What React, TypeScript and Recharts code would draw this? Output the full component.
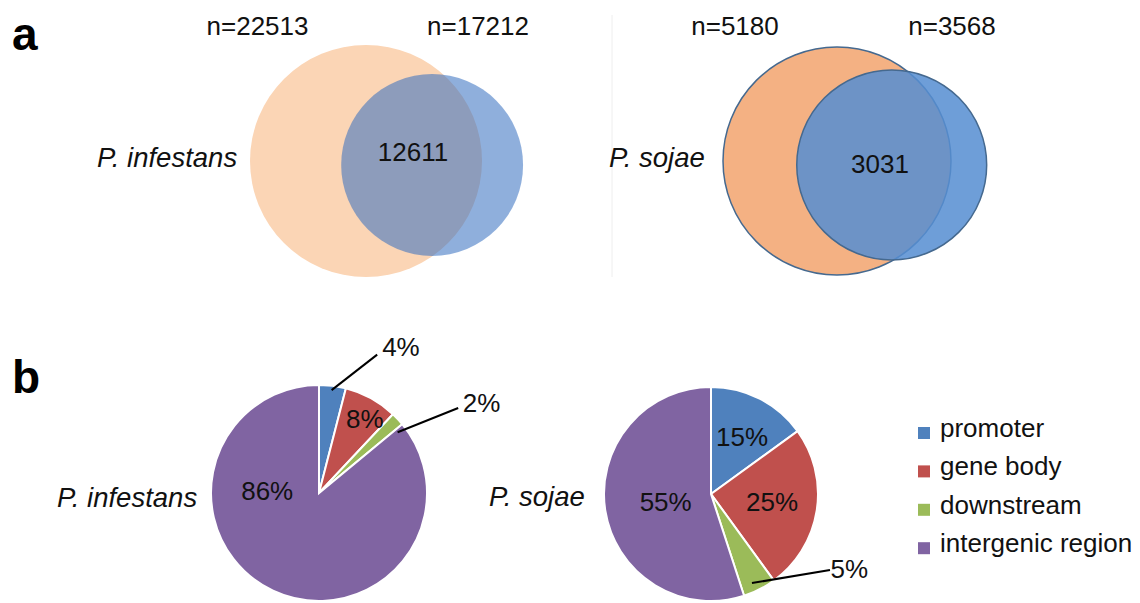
import React from 'react';
import { ScatterChart, Scatter, XAxis, YAxis, ZAxis, PieChart, Pie, Cell, Legend } from 'recharts';

const FONT = '"Liberation Sans", Arial, Helvetica, sans-serif';

// ---------- Panel a: Venn data ----------
const VENN_SPECIES = ['P. infestans', 'P. sojae'];
const INF_SET_SIZES = [22513, 17212];
const INF_OVERLAP = 12611;
const SOJ_SET_SIZES = [5180, 3568];
const SOJ_OVERLAP = 3031;
// circle geometry in units of the larger circle's radius
const INF_CIRCLE_X = [0, 0.57];
const INF_CIRCLE_Y = [0, -0.034];
const INF_CIRCLE_R = [1, 0.784];
const INF_OVERLAP_POS = [0.405, 0.078];
const SOJ_CIRCLE_X = [0, 0.48];
const SOJ_CIRCLE_Y = [0, -0.035];
const SOJ_CIRCLE_R = [1, 0.833];
const SOJ_OVERLAP_POS = [0.377, -0.026];

// ---------- Panel b: pie data ----------
const SEGMENTS = ['promoter', 'gene body', 'downstream', 'intergenic region'];
const PIE_INF = [4, 8, 2, 86];
const PIE_SOJ = [15, 25, 5, 55];

// ---------- styles / layout ----------
const SEG_COLORS = ['#4F81BD', '#C0504D', '#9BBB59', '#8064A2'];

const INF_STYLE = [
  { fill: '#FBD5B5', opacity: 1, stroke: 'none', strokeWidth: 0 },
  { fill: 'rgb(51,110,191)', opacity: 0.55, stroke: 'none', strokeWidth: 0 },
];
const SOJ_STYLE = [
  { fill: '#F4B183', opacity: 1, stroke: '#45698f', strokeWidth: 1.5 },
  { fill: 'rgb(86,142,210)', opacity: 0.86, stroke: '#45698f', strokeWidth: 1.5 },
];

const INF_BOX = { left: 226, top: 20, width: 350, height: 280, scale: 116, ox: 140, oy: 141 };
const SOJ_BOX = { left: 700, top: 20, width: 320, height: 280, scale: 114, ox: 137, oy: 141 };

// label placement: [radius fraction, angle deg]
const PIE_LABELS_INF = [
  { t: [1.55, 60.7], line: [[0.96, 83], [1.39, 67.2]] },
  { t: [0.81, 58.5] },
  { t: [1.72, 28.9], line: [[0.92, 37.7], [1.51, 31.4]] },
  { t: [0.48, 177.8] },
];
const PIE_LABELS_SOJ = [
  { t: [0.61, 61.5] },
  { t: [0.575, -7.5] },
  { t: [1.47, -28.5], line: [[0.916, -65.3], [1.32, -32.6]] },
  { t: [0.43, 190] },
];

type Box = { left: number; top: number; width: number; height: number; scale: number; ox: number; oy: number };

function Venn({ xs, ys, rs, overlap, overlapPos, box, styles }: {
  xs: number[]; ys: number[]; rs: number[]; overlap: number; overlapPos: number[]; box: Box; styles: any[];
}) {
  const { left, top, width, height, scale, ox, oy } = box;
  const xDom = [-ox / scale, (width - ox) / scale];
  const yDom = [-(height - oy) / scale, oy / scale];
  const zs = rs.map((r) => r * r);
  const zMax = Math.max(...zs);
  const circles = xs.map((x, i) => ({ x, y: ys[i], z: zs[i] }));
  const labelData = [{ x: overlapPos[0], y: overlapPos[1], z: 0, label: overlap }];
  return (
    <div style={{ position: 'absolute', left, top }}>
      <ScatterChart width={width} height={height} margin={{ top: 0, right: 0, bottom: 0, left: 0 }}>
        <XAxis type="number" dataKey="x" domain={xDom} hide allowDataOverflow />
        <YAxis type="number" dataKey="y" domain={yDom} hide allowDataOverflow />
        <ZAxis type="number" dataKey="z" domain={[0, zMax]} range={[0, Math.PI * scale * scale * zMax]} />
        {circles.map((c, i) => (
          <Scatter
            key={i}
            data={[c]}
            isAnimationActive={false}
            shape={(p: any) => (
              <circle
                cx={p.cx}
                cy={p.cy}
                r={Math.sqrt(Math.max(p.size, 0) / Math.PI)}
                fill={styles[i].fill}
                fillOpacity={styles[i].opacity}
                stroke={styles[i].stroke}
                strokeWidth={styles[i].strokeWidth}
              />
            )}
          />
        ))}
        <Scatter
          data={labelData}
          isAnimationActive={false}
          shape={(p: any) => (
            <text x={p.cx} y={p.cy} dy="0.35em" textAnchor="middle" fontFamily={FONT} fontSize={26} fill="#111">
              {p.payload.label}
            </text>
          )}
        />
      </ScatterChart>
    </div>
  );
}

const makePieLabel = (layout: any[]) => (props: any) => {
  const { cx, cy, outerRadius, index, value } = props;
  const spec = layout[index];
  const pt = (f: number, a: number) => [
    cx + f * outerRadius * Math.cos((a * Math.PI) / 180),
    cy - f * outerRadius * Math.sin((a * Math.PI) / 180),
  ];
  const [tx, ty] = pt(spec.t[0], spec.t[1]);
  let line = null;
  if (spec.line) {
    const [x1, y1] = pt(spec.line[0][0], spec.line[0][1]);
    const [x2, y2] = pt(spec.line[1][0], spec.line[1][1]);
    line = <line x1={x1} y1={y1} x2={x2} y2={y2} stroke="#000" strokeWidth={2} />;
  }
  return (
    <g key={`lbl-${index}`}>
      {line}
      <text x={tx} y={ty} dy="0.35em" textAnchor="middle" fontFamily={FONT} fontSize={26} fill="#111">
        {value}%
      </text>
    </g>
  );
};

const LegendContent = (props: any) => {
  const payload = props.payload || [];
  return (
    <svg width={230} height={170} style={{ display: 'block' }}>
      {SEGMENTS.map((name, i) => {
        const entry = payload.find((p: any) => p.value === name);
        const color = (entry && entry.color) || SEG_COLORS[i];
        const base = 32 + i * 38.4;
        return (
          <g key={name}>
            <rect x={8} y={base - 10} width={12} height={12} fill={color} />
            <text x={30} y={base} fontFamily={FONT} fontSize={26} fill="#111">
              {name}
            </text>
          </g>
        );
      })}
    </svg>
  );
};

function PiePanel({ values, labels, left, top, width, height, cx, cy, r, legend }: any) {
  const data = values.map((v: number, i: number) => ({ name: SEGMENTS[i], value: v, fill: SEG_COLORS[i] }));
  return (
    <div style={{ position: 'absolute', left, top }}>
      <PieChart width={width} height={height} margin={{ top: 0, right: 0, bottom: 0, left: 0 }}>
        <Pie
          data={data}
          dataKey="value"
          nameKey="name"
          cx={cx}
          cy={cy}
          outerRadius={r}
          startAngle={90}
          endAngle={-270}
          stroke="#fff"
          strokeWidth={2}
          isAnimationActive={false}
          labelLine={false}
          label={makePieLabel(labels)}
        >
          {data.map((d: any, i: number) => (
            <Cell key={i} fill={SEG_COLORS[i]} />
          ))}
        </Pie>
        {legend && (
          <Legend
            layout="vertical"
            align="right"
            verticalAlign="middle"
            content={<LegendContent />}
            wrapperStyle={{ left: 350, top: 75, width: 230, height: 170, right: 'auto', bottom: 'auto' }}
          />
        )}
      </PieChart>
    </div>
  );
}

export default function App() {
  const txt = { fontFamily: FONT, fontSize: 26, fill: '#111' } as const;
  const sp = { fontFamily: FONT, fontSize: 27.5, fill: '#111', fontStyle: 'italic' } as const;
  return (
    <div style={{ position: 'absolute', left: 0, top: 0, width: 1140, height: 603, background: '#fff', overflow: 'hidden' }}>
      <Venn
        xs={INF_CIRCLE_X}
        ys={INF_CIRCLE_Y}
        rs={INF_CIRCLE_R}
        overlap={INF_OVERLAP}
        overlapPos={INF_OVERLAP_POS}
        box={INF_BOX}
        styles={INF_STYLE}
      />
      <Venn
        xs={SOJ_CIRCLE_X}
        ys={SOJ_CIRCLE_Y}
        rs={SOJ_CIRCLE_R}
        overlap={SOJ_OVERLAP}
        overlapPos={SOJ_OVERLAP_POS}
        box={SOJ_BOX}
        styles={SOJ_STYLE}
      />
      <PiePanel values={PIE_INF} labels={PIE_LABELS_INF} left={180} top={310} width={360} height={293} cx={139} cy={183} r={108} />
      <PiePanel values={PIE_SOJ} labels={PIE_LABELS_SOJ} left={560} top={330} width={580} height={273} cx={151} cy={164} r={107} legend />
      <svg width={1140} height={603} style={{ position: 'absolute', left: 0, top: 0, pointerEvents: 'none' }}>
        <line x1={612} y1={15} x2={612} y2={277} stroke="#eeeeee" strokeWidth={1} />
        <text x={12} y={50} fontFamily={FONT} fontSize={46} fontWeight="bold" fill="#000">a</text>
        <text x={12} y={393} fontFamily={FONT} fontSize={46} fontWeight="bold" fill="#000">b</text>
        <text x={257.5} y={35} textAnchor="middle" {...txt}>n={INF_SET_SIZES[0]}</text>
        <text x={478} y={35} textAnchor="middle" {...txt}>n={INF_SET_SIZES[1]}</text>
        <text x={735} y={35} textAnchor="middle" {...txt}>n={SOJ_SET_SIZES[0]}</text>
        <text x={952} y={35} textAnchor="middle" {...txt}>n={SOJ_SET_SIZES[1]}</text>
        <text x={97} y={167} {...sp}>{VENN_SPECIES[0]}</text>
        <text x={609} y={167} {...sp}>{VENN_SPECIES[1]}</text>
        <text x={57} y={507} {...sp}>{VENN_SPECIES[0]}</text>
        <text x={489} y={506} {...sp}>{VENN_SPECIES[1]}</text>
      </svg>
    </div>
  );
}
